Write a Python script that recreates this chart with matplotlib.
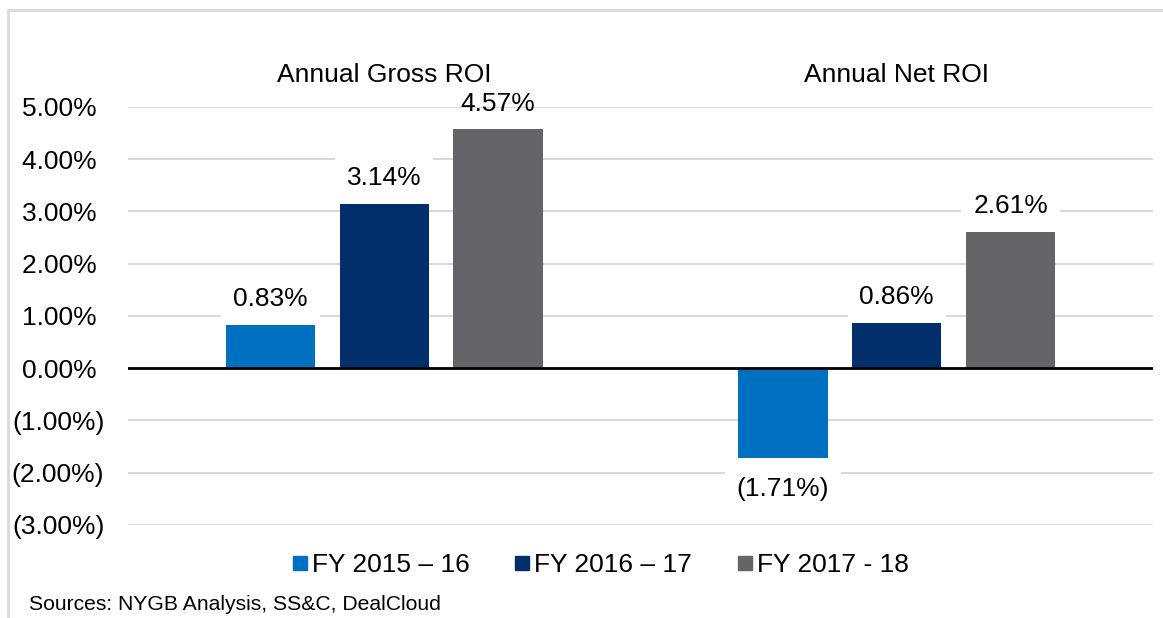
import numpy as np
import matplotlib.pyplot as plt
from matplotlib.lines import Line2D
from matplotlib.patches import Rectangle

plt.rcParams['font.family'] = ['Liberation Sans', 'DejaVu Sans']

categories = ['Annual Gross ROI', 'Annual Net ROI']
series = ['FY 2015 – 16', 'FY 2016 – 17', 'FY 2017 - 18']
values = [
    [0.83, -1.71],   # FY 2015-16
    [3.14, 0.86],    # FY 2016-17
    [4.57, 2.61],    # FY 2017-18
]
colors = ['#0070C0', '#002F6C', '#646569']
yticks = [5, 4, 3, 2, 1, 0, -1, -2, -3]


def fmt(v):
    # excel style: negatives in parentheses
    if v < 0:
        return '(%.2f%%)' % abs(v)
    return '%.2f%% ' % v


fig = plt.figure(figsize=(11.63, 6.18), dpi=100)
ax = fig.add_axes([0.110, 0.1505, 0.8814, 0.6764])

x = np.arange(len(categories))
width = 0.174
step = 0.222
box = dict(facecolor='white', edgecolor='none', boxstyle='square,pad=0.45')
for i, (name, vals) in enumerate(zip(series, values)):
    pos = x + (i - 1) * step
    ax.bar(pos, vals, width, color=colors[i], zorder=2, label=name)
    for px, v in zip(pos, vals):
        # label sitting on the top gridline keeps it visible (as in excel)
        bb = box if v < 4.5 else None
        if v >= 0:
            ax.annotate(fmt(v).strip(), (px, v), xytext=(0, 10), textcoords='offset points',
                        ha='center', va='bottom', fontsize=19, bbox=bb, zorder=3)
        else:
            ax.annotate(fmt(v), (px, v), xytext=(0, -14), textcoords='offset points',
                        ha='center', va='top', fontsize=19, bbox=bb, zorder=3)

for xi, c in zip(x, categories):
    ax.text(xi, 5.61, c, ha='center', va='center', fontsize=19, clip_on=False)

ax.set_xlim(-0.5, 1.5)
ax.set_ylim(-3, 5)
ax.set_yticks(yticks)
ax.set_yticklabels([fmt(v) for v in yticks])
ax.tick_params(axis='y', length=0, pad=17, labelsize=19)
ax.set_xticks([])
for s in ax.spines.values():
    s.set_visible(False)
ax.yaxis.grid(True, color='#D9D9D9', linewidth=1.5, zorder=0)
ax.set_axisbelow(True)
ax.axhline(0, color='black', linewidth=2, zorder=4)

handles = [Line2D([], [], marker='s', linestyle='none', markersize=10,
                  markerfacecolor=c, markeredgecolor=c) for c in colors]
fig.legend(handles, series, loc='center', bbox_to_anchor=(0.515, 0.085), ncol=3,
           frameon=False, fontsize=19, handletextpad=0.05, columnspacing=1.6,
           handlelength=0.8)

fig.text(29 / 1163, 1 - 605 / 618, 'Sources: NYGB Analysis, SS&C, DealCloud',
         fontsize=15.2, ha='left', va='center')

# thin outer frame
fig.patches.append(Rectangle((8 / 1163, -0.1), 1.2, 1 - 10 / 618 + 0.1, transform=fig.transFigure,
                             fill=False, edgecolor='#D9D9D9', linewidth=2))

fig.savefig('out.png', dpi=100)
